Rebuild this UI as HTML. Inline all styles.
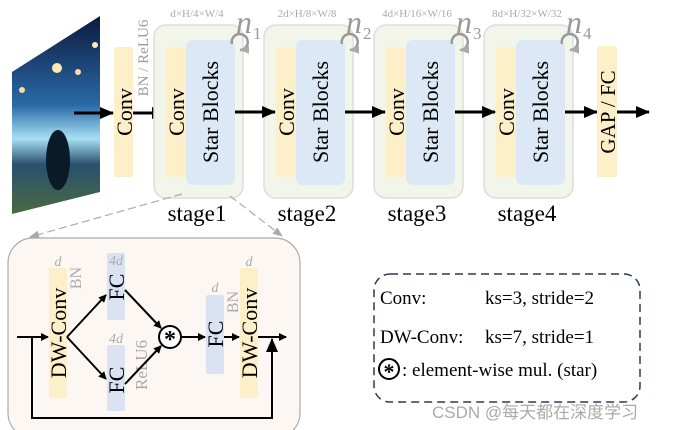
<!DOCTYPE html>
<html><head><meta charset="utf-8"><style>
html,body{margin:0;padding:0;background:#fff;}
svg{display:block;font-family:"Liberation Serif",serif;}
</style></head><body>
<svg width="676" height="430" viewBox="0 0 676 430" xmlns="http://www.w3.org/2000/svg">
<defs>
<linearGradient id="sky" x1="0" y1="0" x2="0" y2="1">
<stop offset="0" stop-color="#0c1a3e"/><stop offset="0.45" stop-color="#2a6aa8"/><stop offset="0.62" stop-color="#a8e0f5"/><stop offset="0.75" stop-color="#2a5070"/><stop offset="1" stop-color="#4a6a40"/>
</linearGradient>
<marker id="ah" markerWidth="8" markerHeight="8" refX="7" refY="4" orient="auto" markerUnits="userSpaceOnUse"><path d="M0,0 L8,4 L0,8 z" fill="#000"/></marker>
<marker id="ahb" markerWidth="14" markerHeight="12" refX="13" refY="6" orient="auto" markerUnits="userSpaceOnUse"><path d="M0,0 L14,6 L0,12 z" fill="#000"/></marker>
<marker id="ahg" markerWidth="10" markerHeight="8" refX="9" refY="4" orient="auto" markerUnits="userSpaceOnUse"><path d="M0,0 L10,4 L0,8 z" fill="#aaa"/></marker>
</defs>
<polygon points="12,72 100,16 100,192 12,214" fill="url(#sky)"/>
<circle cx="57" cy="68" r="5" fill="#ffe9b0"/><circle cx="78" cy="72" r="3" fill="#ffd9a0"/><circle cx="22" cy="90" r="3" fill="#ffd9a0"/><circle cx="95" cy="45" r="3" fill="#ffe9b0"/>
<ellipse cx="58" cy="160" rx="12" ry="30" fill="#0a1a28"/>
<rect x="114" y="47" width="19" height="130" rx="2" fill="#fdf0c8"/>
<text transform="translate(132,112) rotate(-90)" text-anchor="middle" font-size="22">Conv</text>
<text transform="translate(148,58) rotate(-90)" text-anchor="middle" font-size="15" fill="#999">BN / ReLU6</text>
<line x1="74" y1="113" x2="113" y2="113" stroke="#000" stroke-width="3" marker-end="url(#ahb)"/>
<line x1="133" y1="113" x2="165" y2="113" stroke="#000" stroke-width="3" marker-end="url(#ahb)"/>
<g id="st">
<rect x="154" y="25" width="89" height="173" rx="12" fill="#f1f5ea" stroke="#ddd" stroke-width="1.5"/>
<rect x="166" y="47" width="20" height="130" rx="2" fill="#fdf0c8"/>
<rect x="186" y="40" width="49" height="145" rx="7" fill="#dce8f5"/>
<text transform="translate(184,112) rotate(-90)" text-anchor="middle" font-size="22">Conv</text>
<text transform="translate(218,112) rotate(-90)" text-anchor="middle" font-size="22">Star Blocks</text>
<path d="M232,44 A8,8 0 1 1 240,50" fill="none" stroke="#999" stroke-width="2.5" marker-end="url(#ahg)"/>
</g>
<use href="#st" x="110"/><use href="#st" x="220"/><use href="#st" x="330"/>
<line x1="235" y1="112" x2="275" y2="112" stroke="#000" stroke-width="3" marker-end="url(#ahb)"/>
<line x1="345" y1="112" x2="385" y2="112" stroke="#000" stroke-width="3" marker-end="url(#ahb)"/>
<line x1="455" y1="112" x2="495" y2="112" stroke="#000" stroke-width="3" marker-end="url(#ahb)"/>
<line x1="565" y1="112" x2="597" y2="112" stroke="#000" stroke-width="3" marker-end="url(#ahb)"/>
<rect x="597" y="46" width="20" height="131" rx="2" fill="#fdf0c8"/>
<text transform="translate(615,112) rotate(-90)" text-anchor="middle" font-size="21">GAP / FC</text>
<line x1="617" y1="112" x2="649" y2="112" stroke="#000" stroke-width="3" marker-end="url(#ahb)"/>
<g font-size="23" text-anchor="middle">
<text x="197" y="221">stage1</text><text x="307" y="221">stage2</text><text x="417" y="221">stage3</text><text x="527" y="221">stage4</text>
</g>
<g font-size="32" fill="#999" font-style="italic">
<text x="236" y="33">n</text><text x="346" y="33">n</text><text x="456" y="33">n</text><text x="566" y="33">n</text>
</g>
<g font-size="17" fill="#999">
<text x="253" y="39">1</text><text x="363" y="39">2</text><text x="473" y="39">3</text><text x="583" y="39">4</text>
</g>
<g font-size="11" fill="#aaa" text-anchor="middle">
<text x="197" y="17">d×H/4×W/4</text><text x="307" y="17">2d×H/8×W/8</text><text x="417" y="17">4d×H/16×W/16</text><text x="527" y="17">8d×H/32×W/32</text>
</g>
<line x1="182" y1="194" x2="30" y2="237" stroke="#aaa" stroke-width="1.2" stroke-dasharray="8,4" marker-end="url(#ahg)"/>
<line x1="230" y1="196" x2="282" y2="236" stroke="#aaa" stroke-width="1.2" stroke-dasharray="8,4" marker-end="url(#ahg)"/>
<rect x="8" y="238" width="292" height="200" rx="25" fill="#fdf7f3" stroke="#aaa" stroke-width="1.2"/>
<rect x="49" y="268" width="18" height="130" rx="2" fill="#fdf0c8"/>
<rect x="240" y="268" width="18" height="130" rx="2" fill="#fdf0c8"/>
<rect x="107" y="253" width="18" height="67" rx="2" fill="#dbe3f3"/>
<rect x="107" y="345" width="18" height="66" rx="2" fill="#dbe3f3"/>
<rect x="206" y="295" width="18" height="79" rx="2" fill="#dbe3f3"/>
<g font-size="22" text-anchor="middle">
<text transform="translate(66,333) rotate(-90)">DW-Conv</text>
<text transform="translate(257,333) rotate(-90)">DW-Conv</text>
<text transform="translate(124,287) rotate(-90)">FC</text>
<text transform="translate(124,380) rotate(-90)">FC</text>
<text transform="translate(223,334) rotate(-90)">FC</text>
</g>
<g font-size="16" fill="#aaa" text-anchor="middle">
<text transform="translate(81,278) rotate(-90)">BN</text>
<text transform="translate(238,302) rotate(-90)">BN</text>
<text transform="translate(147,365) rotate(-90)" font-size="17">ReLU6</text>
</g>
<g font-size="14" fill="#aaa" font-style="italic" text-anchor="middle">
<text x="58" y="266">d</text><text x="116" y="265">4d</text><text x="116" y="343">4d</text><text x="215" y="292">d</text><text x="249" y="266">d</text>
</g>
<g stroke="#000" stroke-width="2" fill="none">
<line x1="17" y1="337" x2="48" y2="337" marker-end="url(#ah)"/>
<line x1="67" y1="337" x2="106" y2="295" marker-end="url(#ah)"/>
<line x1="67" y1="337" x2="106" y2="379" marker-end="url(#ah)"/>
<line x1="125" y1="290" x2="161" y2="328" marker-end="url(#ah)"/>
<line x1="125" y1="384" x2="161" y2="346" marker-end="url(#ah)"/>
<line x1="181" y1="337" x2="205" y2="337" marker-end="url(#ah)"/>
<line x1="224" y1="337" x2="239" y2="337" marker-end="url(#ah)"/>
<line x1="258" y1="337" x2="286" y2="337" marker-end="url(#ah)"/>
<polyline points="32,337 32,418 272,418 272,339" marker-end="url(#ahb)"/>
<circle cx="170" cy="337" r="11" fill="#fff"/>
</g>
<text x="170" y="347" font-size="24" text-anchor="middle" font-weight="bold">*</text>
<rect x="374" y="274" width="266" height="128" rx="16" fill="none" stroke="#2a3a5a" stroke-width="1.5" stroke-dasharray="8,5"/>
<g font-size="19">
<text x="380" y="304">Conv:</text><text x="485" y="304">ks=3, stride=2</text>
<text x="380" y="343">DW-Conv:</text><text x="485" y="343">ks=7, stride=1</text>
<text x="402" y="376">:  element-wise mul. (star)</text>
</g>
<circle cx="389" cy="369" r="10" fill="#fff" stroke="#000" stroke-width="2"/>
<text x="389" y="379" font-size="22" text-anchor="middle" font-weight="bold">*</text>
<text x="432" y="418" font-size="17" fill="#aaa" font-family="'Liberation Sans','Noto Sans CJK SC',sans-serif">CSDN @每天都在深度学习</text>
</svg>
</body></html>
